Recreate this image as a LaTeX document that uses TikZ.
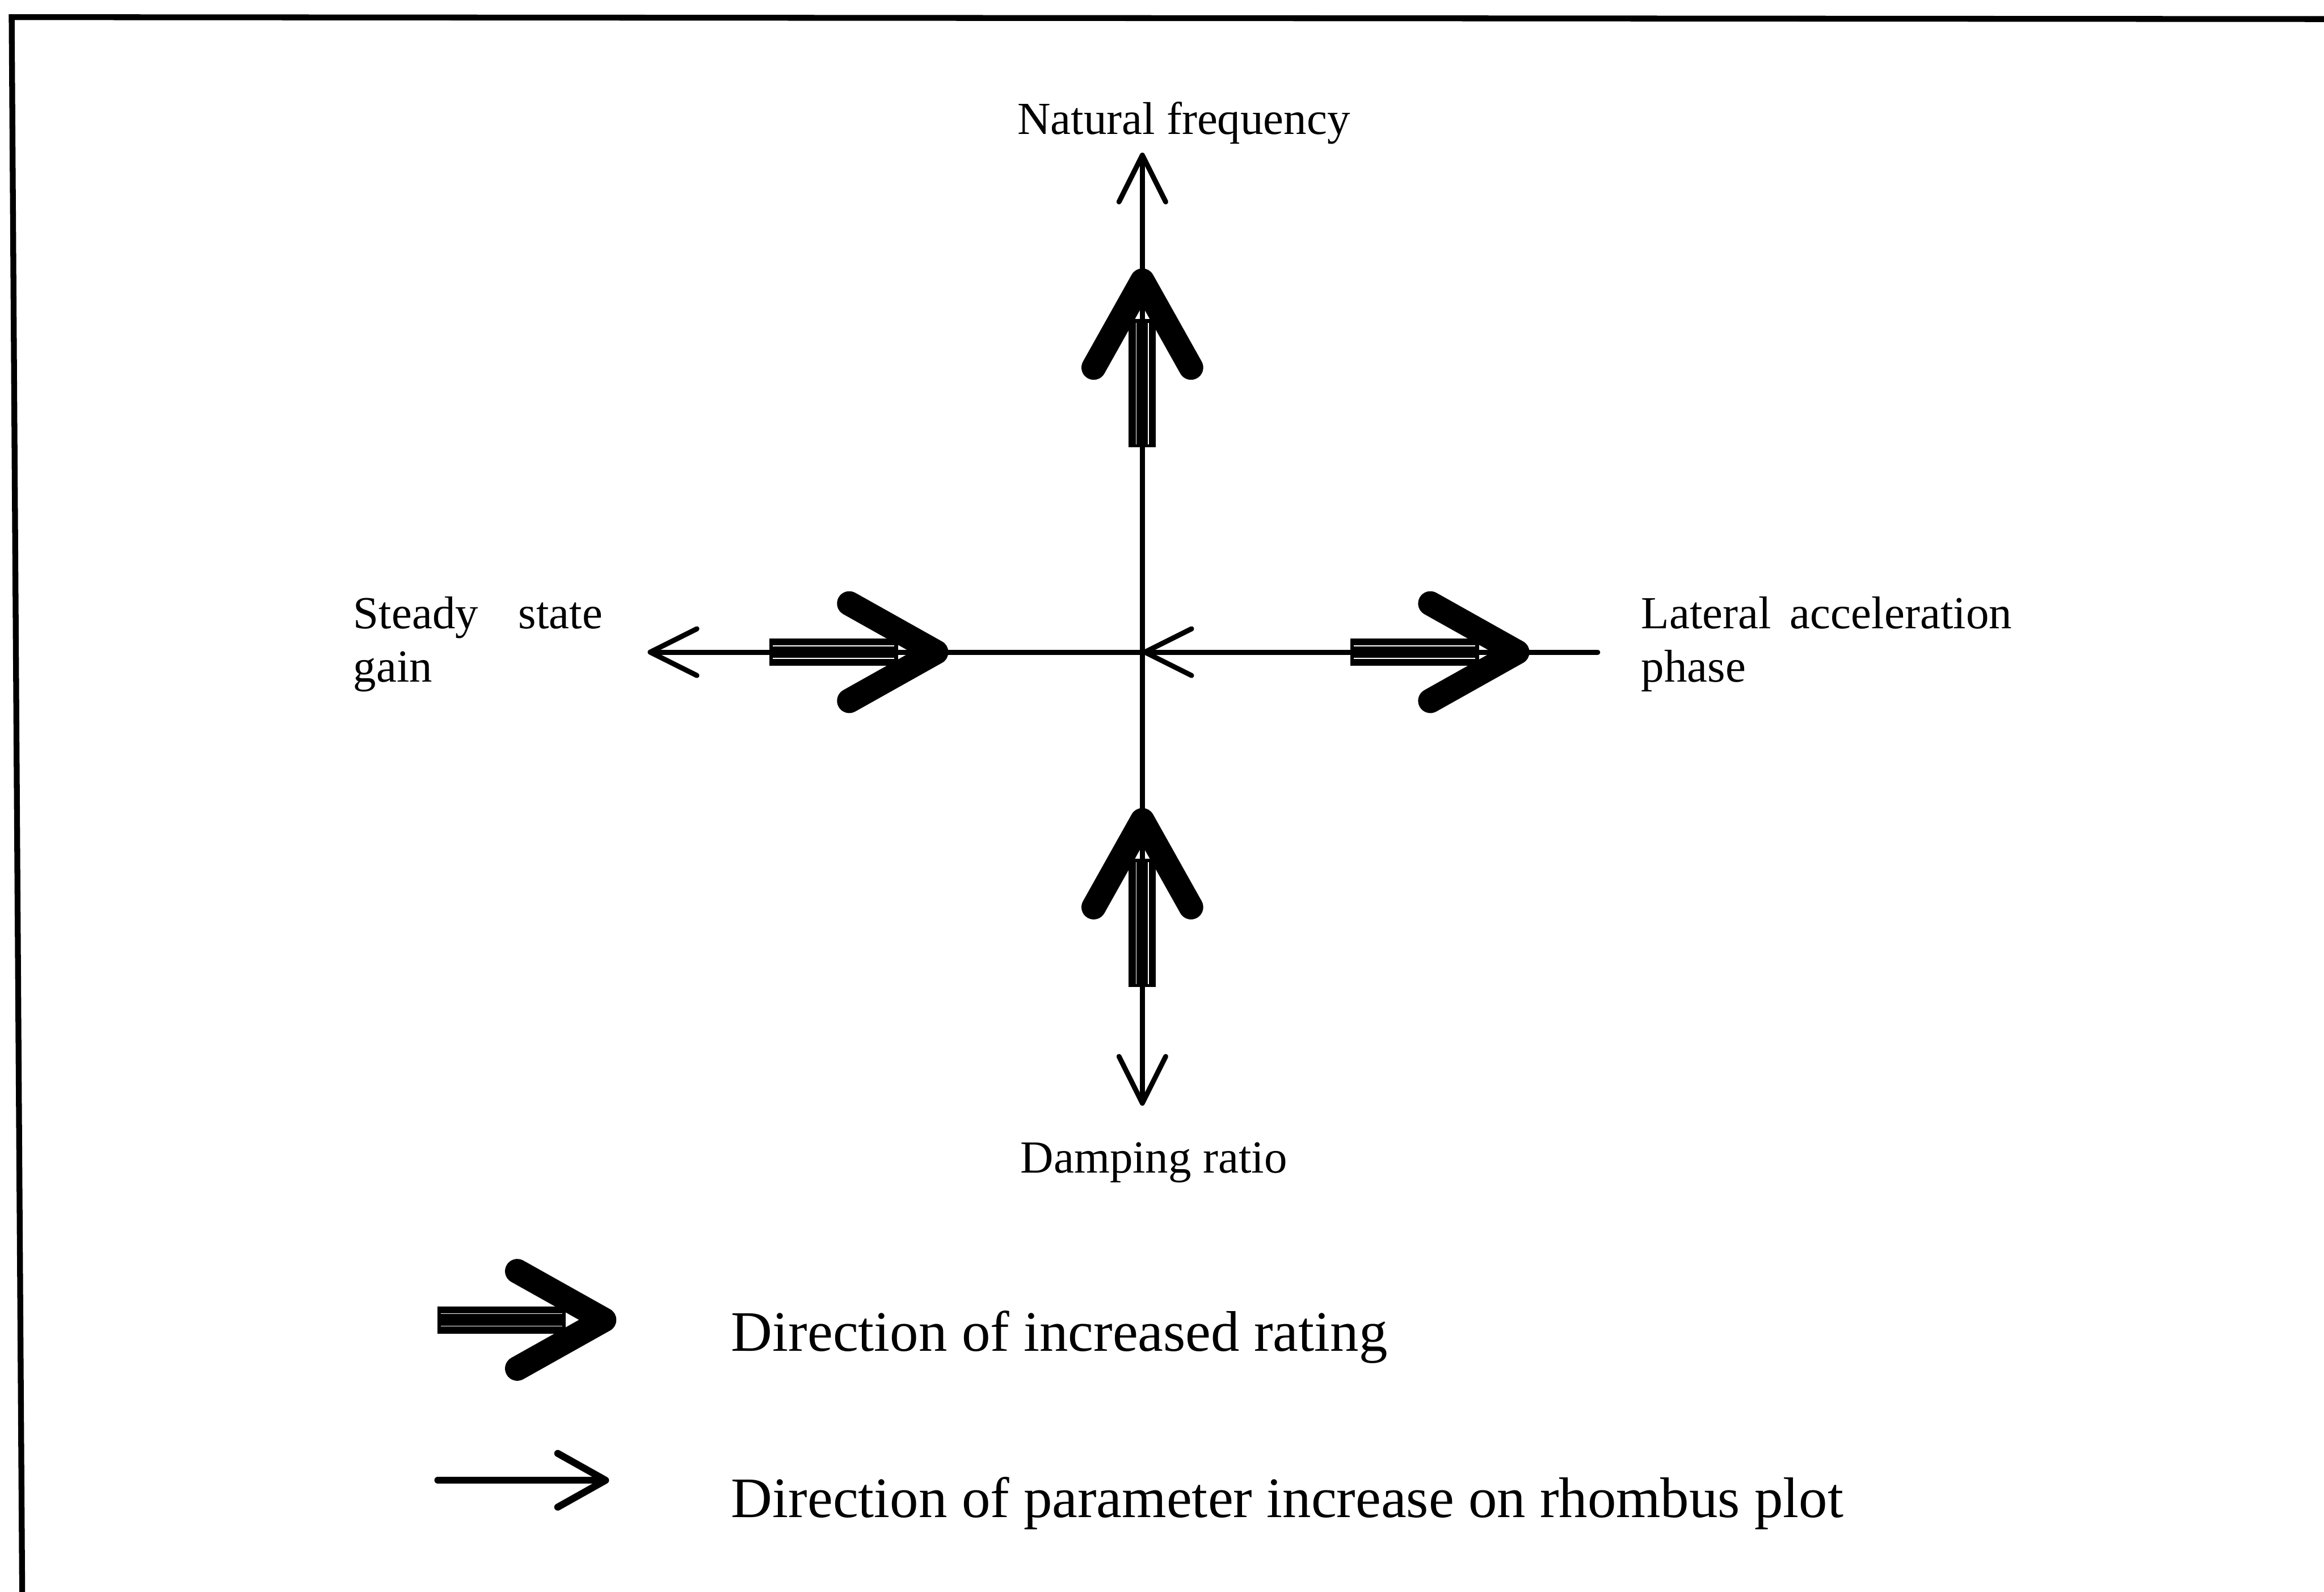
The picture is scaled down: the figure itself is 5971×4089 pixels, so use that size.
\documentclass[tikz,border=0pt]{standalone}
\usepackage{fontspec}
\setmainfont{Liberation Serif}
\usetikzlibrary{arrows.meta}

\begin{document}
\begin{tikzpicture}[x=0.1pt, y=-0.1pt,
  axisline/.style={line width=1.3pt, line cap=round},
  thinhead/.style={-{Straight Barb[length=12pt, width=12pt, round]}},
  lbl/.style={inner sep=0pt, anchor=base west, font=\fontsize{11.8}{14}\selectfont},
  legendtxt/.style={inner sep=0pt, anchor=base west, font=\fontsize{14.7}{17}\selectfont},
  % bold "increased rating" arrow: triple-line shaft and a heavy open head, tip at the origin
  pics/ratearrow/.style={code={
    \fill (-460,-35) rectangle (-130,35);
    \draw[white, line width=0.25pt] (-452,-16) -- (-140,-16) (-452,16) -- (-140,16);
    \draw[line width=6.3pt, line cap=round, line join=round] (-255,125) -- (-32,0) -- (-255,-125);
  }}
]
\useasboundingbox (0,0) rectangle (5971,4089);

% frame
\draw[line width=1.5pt, line join=miter] (57,4089) -- (30,44) -- (5971,49);

% axis end points
\coordinate (vtop) at (2935,392);
\coordinate (vbot) at (2935,2840);
\coordinate (hleft) at (1664,1675);
\coordinate (hright) at (4105,1675);
\coordinate (ctr) at (2935,1675);

% thin axes: direction of parameter increase
\draw[axisline, {Straight Barb[length=12pt, width=12pt, round]}-{Straight Barb[length=12pt, width=12pt, round]}] (vbot) -- (vtop);
\draw[axisline, thinhead] (ctr) -- (hleft);
\draw[axisline, thinhead] (hright) -- (ctr);

% bold arrows: direction of increased rating
\pic[rotate=90] at (2935,689) {ratearrow};
\pic[rotate=90] at (2935,2075) {ratearrow};
\pic at (2437,1675) {ratearrow};
\pic at (3930,1675) {ratearrow};

% axis labels
\node[lbl] (natf) at (2612,345) {Natural frequency};
\node[lbl] (damp) at (2620,3012) {Damping ratio};
\node[lbl] (ssg1) at (906,1615) {Steady};
\node[lbl, anchor=base east] (ssg2) at (1550,1615) {state};
\node[lbl] (ssg3) at (906,1752) {gain};
\node[lbl] (lap1) at (4215,1615) {Lateral};
\node[lbl, anchor=base east] (lap2) at (5171,1615) {acceleration};
\node[lbl] (lap3) at (4215,1752) {phase};

% legend
\pic at (1584,3390) {ratearrow};
\coordinate (lgA) at (1125,3802);
\coordinate (lgB) at (1565,3802);
\draw[line width=1.8pt, line cap=round, -{Straight Barb[length=12.3pt, width=13.8pt, round]}] (lgA) -- (lgB);
\node[legendtxt] (leg1) at (1877,3470) {Direction of increased rating};
\node[legendtxt] (leg2) at (1877,3897) {Direction of parameter increase on rhombus plot};
\end{tikzpicture}
\end{document}
